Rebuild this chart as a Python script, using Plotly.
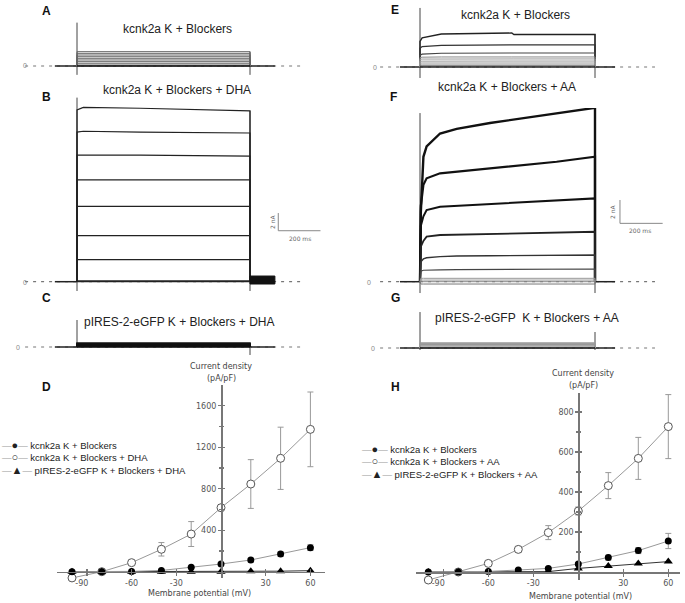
import plotly.graph_objects as go

W, H = 685, 603

# ------------------------------------------------------------------ data
PULSE_END = 820                      # ms, end of the voltage step
L_PRE, L_POST, L_DOT = -105, 938, [-246, 1080]
R_PRE, R_POST, R_DOT = -94, 914, [-187, 1101]

# A : kcnk2a K + Blockers (DHA series) -- steady currents (nA)
A_LEVELS = [1.62, 1.43, 1.24, 1.05, 0.87, 0.68, 0.49, 0.31, 0.11, 0.0]
A_ON = [-1.0, 4.9]
A_OFF = [-1.0, 1.62]

# B : kcnk2a K + Blockers + DHA
B_T = [0, 30, 300, 820]
B_SWEEPS = [
    [19.4, 19.7, 19.6, 19.3],
    [16.9, 17.0, 16.9, 16.8],
    [14.3, 14.3, 14.3, 14.2],
    [11.5, 11.5, 11.5, 11.5],
    [8.5, 8.5, 8.5, 8.5],
    [5.2, 5.2, 5.2, 5.2],
    [2.5, 2.5, 2.5, 2.5],
    [0.1, 0.1, 0.1, 0.1],
    [0.0, 0.0, 0.0, 0.0],
]
B_ON = [-1.05, 20.8]
B_OFF = [-1.05, 19.3]
B_TAIL = [-0.26, 0.64]

# C : pIRES-2-eGFP K + Blockers + DHA
C_LEVELS = [0.45, 0.35, 0.25, 0.15, 0.05, 0.0]
C_ON = [-0.1, 3.05]
C_OFF = [-0.9, 0.45]

# E : kcnk2a K + Blockers (AA series)
E_T = [0, 10, 100, 430, 440, 820]
E_SWEEPS = [
    [2.2, 2.5, 2.83, 2.91, 2.78, 2.78],
    [1.6, 1.75, 1.86, 1.89, 1.89, 1.89],
    [1.0, 1.1, 1.18, 1.2, 1.2, 1.2],
    [0.8, 0.84, 0.86, 0.86, 0.86, 0.86],
    [0.65, 0.68, 0.69, 0.69, 0.69, 0.69],
    [0.49, 0.5, 0.51, 0.51, 0.51, 0.51],
    [0.33, 0.34, 0.34, 0.34, 0.34, 0.34],
    [0.17, 0.17, 0.17, 0.17, 0.17, 0.17],
    [0.09, 0.09, 0.09, 0.09, 0.09, 0.09],
    [0.0, 0.0, 0.0, 0.0, 0.0, 0.0],
]
E_ON = [-0.94, 5.06]
E_OFF = [-0.94, 2.83]

# F : kcnk2a K + Blockers + AA
F_T = [0, 4, 16, 31, 94, 172, 328, 484, 640, 820]
F_SWEEPS = [
    [0.0, 6.0, 10.7, 11.6, 12.7, 13.1, 13.6, 14.0, 14.4, 14.9],
    [0.0, 6.5, 8.3, 8.86, 9.29, 9.43, 9.71, 10.0, 10.28, 10.71],
    [0.0, 4.8, 5.6, 6.14, 6.43, 6.51, 6.66, 6.86, 7.0, 7.14],
    [0.0, 3.0, 3.5, 3.86, 4.0, 4.03, 4.09, 4.15, 4.2, 4.28],
    [0.0, 1.7, 1.95, 2.05, 2.15, 2.2, 2.22, 2.25, 2.27, 2.29],
    [0.0, 0.9, 0.98, 1.0, 1.02, 1.04, 1.05, 1.07, 1.08, 1.09],
    [0.0, 0.29, 0.29, 0.29, 0.29, 0.29, 0.29, 0.29, 0.29, 0.29],
    [0.0, 0.14, 0.14, 0.14, 0.14, 0.14, 0.14, 0.14, 0.14, 0.14],
    [0.0, 0.0, 0.0, 0.0, 0.0, 0.0, 0.0, 0.0, 0.0, 0.0],
    [0.0, -0.2, -0.2, -0.2, -0.2, -0.2, -0.2, -0.2, -0.2, -0.2],
]
F_ON = [-0.97, 14.45]
F_OFF = [-0.97, 14.94]

# G : pIRES-2-eGFP K + Blockers + AA
G_LEVELS = [0.45, 0.38, 0.3, 0.2, 0.1, 0.0]
G_ON = [-0.17, 3.08]
G_OFF = [-0.17, 1.37]

SCALE_NA, SCALE_MS = 2, 200

# D / H : current density (pA/pF) vs membrane potential (mV)
V = [-100, -80, -60, -40, -20, 0, 20, 40, 60]
D_CTRL = [0, 0, 3, 12, 42, 74, 113, 170, 232]
D_CTRL_ERR = [0, 0, 0, 4, 8, 12, 18, 22, 28]
D_DHA = [-60, 0, 87, 216, 363, 617, 845, 1093, 1372]
D_DHA_ERR = [0, 0, 15, 65, 120, 30, 235, 300, 360]
D_PIRES = [0, 0, 0, 0, 0, 0, 5, 5, 10]

H_CTRL = [0, 0, 3, 10, 18, 40, 72, 107, 155]
H_CTRL_ERR = [0, 0, 0, 0, 5, 8, 12, 15, 38]
H_AA = [-40, 0, 43, 113, 197, 305, 432, 568, 727]
H_AA_ERR = [0, 0, 8, 15, 35, 20, 65, 105, 160]
H_PIRES = [0, 0, 0, 0, 2, 18, 30, 43, 52]

X_TICKS = [-90, -60, -30, 30, 60]
D_YTICKS = [400, 800, 1200, 1600]
D_YMINOR = [200, 600, 1000, 1400, 1800]
H_YTICKS = [200, 400, 600, 800]
H_YMINOR = [100, 300, 500, 700]

# ------------------------------------------------------------------ helpers
FONT = "Liberation Sans, Arial, sans-serif"
SMALL = "DejaVu Sans, sans-serif"
fig = go.Figure()
layout = {}
annotations = []


def xdom(p0, p1):
    return [p0 / W, p1 / W]


def ydom(top, bottom):
    return [1 - bottom / H, 1 - top / H]


def ann(x, y, text, size=12, color="#222", family=FONT, xanchor="center", angle=0, bold=False):
    if bold:
        text = "<b>" + text + "</b>"
    annotations.append(dict(x=x / W, y=1 - y / H, xref="paper", yref="paper", text=text,
                            showarrow=False, xanchor=xanchor, yanchor="middle", textangle=angle,
                            align="left" if xanchor == "left" else "center",
                            font=dict(size=size, color=color, family=family)))


def trace_axes(i, xpx, ypx, t0_px, xs, zero_px, ys):
    key = "" if i == 1 else str(i)
    layout["xaxis" + key] = dict(domain=xdom(*xpx), range=[(xpx[0] - t0_px) / xs, (xpx[1] - t0_px) / xs],
                                 visible=False, anchor="y" + key)
    layout["yaxis" + key] = dict(domain=ydom(*ypx), range=[(zero_px - ypx[1]) / ys, (zero_px - ypx[0]) / ys],
                                 visible=False, anchor="x" + key)
    return "x" + key, "y" + key


def line(xa, ya, x, y, color="#222", width=1.0, dash=None, fill=None):
    fig.add_trace(go.Scatter(x=x, y=y, xaxis=xa, yaxis=ya, mode="lines", showlegend=False,
                             hoverinfo="skip", fill=fill, fillcolor=color,
                             line=dict(color=color, width=width, dash=dash)))


def base(xa, ya, pre, post, dot, on, off):
    line(xa, ya, dot, [0, 0], color="#777", width=1.2, dash="3px,5px")
    line(xa, ya, [pre, 0], [0, 0], color="#222", width=1.5)
    line(xa, ya, [PULSE_END, post], [0, 0], color="#222", width=1.5)
    line(xa, ya, [0, 0], on, color="#444", width=1)
    line(xa, ya, [PULSE_END, PULSE_END], off, color="#444", width=1)


def level_sweeps(xa, ya, levels, color, width):
    for lv in levels:
        line(xa, ya, [0, 0, PULSE_END, PULSE_END], [0, lv, lv, 0], color=color, width=width)


def curve_sweeps(xa, ya, t, sweeps, colors, widths):
    for s, c, w in zip(sweeps, colors, widths):
        line(xa, ya, [0] + t + [PULSE_END], [0] + s + [0], color=c, width=w)


LS, RS = 173 / PULSE_END, 175 / PULSE_END   # px per ms, left / right columns
LSC, RSC = 8.85, 11.67                      # px per nA

# ---- A
xa, ya = trace_axes(1, (20, 330), (15, 82), 77, LS, 66, LSC)
base(xa, ya, L_PRE, L_POST, L_DOT, A_ON, A_OFF)
level_sweeps(xa, ya, A_LEVELS, "#666", 1.0)
line(xa, ya, [0, PULSE_END], [0, 0], color="#111", width=1.5)
# ---- B
xa, ya = trace_axes(2, (20, 330), (95, 296), 77, LS, 281.7, LSC)
base(xa, ya, L_PRE, L_POST, L_DOT, B_ON, B_OFF)
curve_sweeps(xa, ya, B_T, B_SWEEPS, ["#222"] * len(B_SWEEPS), [1.2] * len(B_SWEEPS))
line(xa, ya, [PULSE_END, L_POST, L_POST, PULSE_END, PULSE_END],
     [B_TAIL[0], B_TAIL[0], B_TAIL[1], B_TAIL[1], B_TAIL[0]], color="#111", width=1, fill="toself")
sb_t, sb_i = 954, 5.76
line(xa, ya, [sb_t, sb_t, sb_t + SCALE_MS], [sb_i + SCALE_NA, sb_i, sb_i], color="#888", width=1)
# ---- C
xa, ya = trace_axes(3, (20, 330), (310, 362), 77, LS, 347, LSC)
base(xa, ya, L_PRE, L_POST, L_DOT, C_ON, C_OFF)
level_sweeps(xa, ya, C_LEVELS, "#111", 1.6)
# ---- E
xa, ya = trace_axes(4, (365, 680), (5, 82), 420, RS, 67, RSC)
base(xa, ya, R_PRE, R_POST, R_DOT, E_ON, E_OFF)
curve_sweeps(xa, ya, E_T, E_SWEEPS,
             ["#222", "#333", "#444", "#888", "#999", "#999", "#999", "#888", "#666", "#222"],
             [1.4, 1.3, 1.2, 1, 1, 1, 1, 1, 1, 1.3])
# ---- F
xa, ya = trace_axes(5, (365, 680), (108, 296), 420, RS, 281.7, RSC)
base(xa, ya, R_PRE, R_POST, R_DOT, F_ON, F_OFF)
curve_sweeps(xa, ya, F_T, F_SWEEPS,
             ["#111", "#111", "#111", "#222", "#333", "#444", "#999", "#999", "#888", "#777"],
             [2.4, 2.2, 2.0, 1.8, 1.4, 1.2, 1, 1, 1, 1])
sb_t, sb_i = 937, 5.0
line(xa, ya, [sb_t, sb_t, sb_t + SCALE_MS], [sb_i + SCALE_NA, sb_i, sb_i], color="#888", width=1)
# ---- G
xa, ya = trace_axes(6, (365, 680), (305, 362), 420, RS, 348, RSC)
base(xa, ya, R_PRE, R_POST, R_DOT, G_ON, G_OFF)
level_sweeps(xa, ya, G_LEVELS, "#999", 1.0)
line(xa, ya, [0, PULSE_END], [0, 0], color="#111", width=1.6)

# ---- IV axes
AX = "#777"
TICKFONT = dict(size=8, color="#555", family=SMALL)


def iv_axes(i, xpx, zero_x, xs, ypx, zero_y, ys, yticks, yminor):
    j = i + 1
    xr = [(xpx[0] - zero_x) / xs, (xpx[1] - zero_x) / xs]
    yr = [(zero_y - ypx[1]) / ys, (zero_y - ypx[0]) / ys]
    xpos, ypos = 1 - zero_y / H, zero_x / W
    common_x = dict(range=xr, anchor="free", position=xpos, showgrid=False, zeroline=False,
                    tickvals=X_TICKS, tickcolor=AX, tickwidth=1.2, ticklen=3)
    common_y = dict(range=yr, anchor="free", position=ypos, showgrid=False, zeroline=False,
                    tickvals=yticks, tickcolor=AX, tickwidth=1.2, ticklen=3,
                    minor=dict(tickvals=yminor, ticklen=2, tickcolor=AX, ticks="outside"))
    layout[f"xaxis{i}"] = dict(domain=xdom(*xpx), showline=True, linecolor=AX, linewidth=1.6,
                               ticks="outside", tickfont=TICKFONT,
                               ticktext=["-90\u00a0\u00a0\u00a0\u00a0", "-60", "-30", "30", "60"],
                               **common_x)
    layout[f"yaxis{i}"] = dict(domain=ydom(*ypx), showline=True, linecolor=AX, linewidth=1.6,
                               ticks="outside", tickfont=TICKFONT, side="left", **common_y)
    cx = dict(common_x)
    cy = dict(common_y)
    cy["minor"] = dict(tickvals=yminor, ticklen=2, tickcolor=AX, ticks="inside")
    layout[f"xaxis{j}"] = dict(overlaying=f"x{i}", ticks="inside", showticklabels=False,
                               showline=False, **cx)
    layout[f"yaxis{j}"] = dict(overlaying=f"y{i}", ticks="inside", showticklabels=False,
                               showline=False, side="left", **cy)
    fig.add_trace(go.Scatter(x=[None], y=[None], xaxis=f"x{j}", yaxis=f"y{j}", showlegend=False))
    return f"x{i}", f"y{i}"


def iv_series(xa, ya, ctrl, ctrl_err, drug, drug_err, pires):
    fig.add_trace(go.Scatter(x=V, y=drug, xaxis=xa, yaxis=ya, mode="lines+markers", showlegend=False,
                             cliponaxis=False, line=dict(color="#999", width=1),
                             error_y=dict(type="data", array=drug_err, color="#999", thickness=1, width=3),
                             marker=dict(symbol="circle", size=8, color="white",
                                         line=dict(color="#555", width=1))))
    fig.add_trace(go.Scatter(x=V, y=pires, xaxis=xa, yaxis=ya, mode="lines+markers", showlegend=False,
                             cliponaxis=False, line=dict(color="#333", width=1),
                             marker=dict(symbol="triangle-up", size=8, color="black")))
    fig.add_trace(go.Scatter(x=V, y=ctrl, xaxis=xa, yaxis=ya, mode="lines+markers", showlegend=False,
                             cliponaxis=False, line=dict(color="#999", width=1),
                             error_y=dict(type="data", array=ctrl_err, color="#999", thickness=1, width=3),
                             marker=dict(symbol="circle", size=7, color="black")))


xa, ya = iv_axes(7, (57, 325), 221, 1.49, (385, 578), 571.7, 41.5 / 400, D_YTICKS, D_YMINOR)
iv_series(xa, ya, D_CTRL, D_CTRL_ERR, D_DHA, D_DHA_ERR, D_PIRES)
xa, ya = iv_axes(9, (416, 680), 578.3, 1.5, (393, 580), 572, 40 / 200, H_YTICKS, H_YMINOR)
iv_series(xa, ya, H_CTRL, H_CTRL_ERR, H_AA, H_AA_ERR, H_PIRES)

# ------------------------------------------------------------------ text
for letter, x, y in [("A", 46, 11), ("B", 46, 97), ("C", 46, 298), ("D", 46, 387),
                     ("E", 395, 10), ("F", 393, 97), ("G", 395, 298), ("H", 395, 387)]:
    ann(x, y, letter, size=12, color="#111", bold=True)

ann(177, 29, "kcnk2a K + Blockers")
ann(177, 90, "kcnk2a K + Blockers + DHA")
ann(179, 322, "pIRES-2-eGFP K + Blockers + DHA")
ann(515, 15, "kcnk2a K + Blockers")
ann(507, 87, "kcnk2a K + Blockers + AA")
ann(527, 318, "pIRES-2-eGFP  K + Blockers + AA")

for x, y in [(25, 66), (25, 282), (18, 347), (375, 67), (369, 282), (373, 348)]:
    ann(x, y, "0", size=7, color="#888", family=FONT)

ann(272, 222, "2 nA", size=6, color="#666", family=SMALL, angle=-90)
ann(300, 238, "200 ms", size=6, color="#666", family=SMALL)
ann(613, 212, "2 nA", size=6, color="#666", family=SMALL, angle=-90)
ann(640, 231, "200 ms", size=6, color="#666", family=SMALL)

for cx, y0 in [(221, 366), (583, 373)]:
    ann(cx, y0, "Current density", size=8, color="#444", family=SMALL)
    ann(cx, y0 + 12, "(pA/pF)", size=8, color="#444", family=SMALL)
ann(200, 593, "Membrane potential (mV)", size=8, color="#444", family=SMALL)
ann(580, 596, "Membrane potential (mV)", size=8, color="#444", family=SMALL)

DASH = "<span style='color:#999'>\u2014</span>"
for x0, yc, labels in [
    (0, 457, ["kcnk2a K + Blockers", "kcnk2a K + Blockers + DHA", "pIRES-2-eGFP K + Blockers + DHA"]),
    (360, 461.5, ["kcnk2a K + Blockers", "kcnk2a K + Blockers + AA", "pIRES-2-eGFP K + Blockers + AA"]),
]:
    rows = [DASH + "<span style='font-size:11px'>" + sym + "</span>" + DASH + " " + lab
            for sym, lab in zip(["\u25cf", "\u25cb", "\u25b2"], labels)]
    ann(x0, yc, "<br>".join(rows), size=9.5, color="#222", xanchor="left")

layout["annotations"] = annotations
fig.update_layout(width=W, height=H, margin=dict(l=0, r=0, t=0, b=0),
                  paper_bgcolor="white", plot_bgcolor="rgba(0,0,0,0)", showlegend=False,
                  font=dict(family=FONT))
fig.update_layout(**layout)
fig.write_html("out.html", config={"displayModeBar": False, "staticPlot": True},
               post_script="document.body.style.margin='0px';document.body.style.overflow='hidden';")
